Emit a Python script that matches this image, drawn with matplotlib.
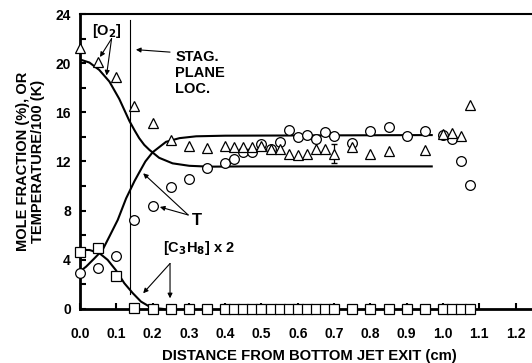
import matplotlib

matplotlib.use("Agg")

import matplotlib.pyplot as plt
from matplotlib.ticker import MultipleLocator

plt.rcParams["font.family"] = ["Liberation Sans", "DejaVu Sans"]
plt.rcParams["font.weight"] = "bold"
plt.rcParams["mathtext.default"] = "bf"

# measured points
x_o2 = [0.0, 0.05, 0.10, 0.15, 0.20, 0.25, 0.30, 0.35, 0.40, 0.425, 0.45, 0.475,
        0.50, 0.525, 0.55, 0.575, 0.60, 0.625, 0.65, 0.675, 0.70, 0.75, 0.80,
        0.85, 0.95, 1.0, 1.025, 1.05, 1.075]
o2 = [21.2, 20.1, 18.9, 16.5, 15.15, 13.75, 13.3, 13.1, 13.25, 13.15, 13.15, 13.2,
      13.25, 13.0, 13.05, 12.65, 12.5, 12.65, 13.05, 13.05, 12.65, 13.2, 12.65,
      12.85, 12.95, 14.2, 14.35, 14.1, 16.6]

x_t = [0.0, 0.05, 0.10, 0.15, 0.20, 0.25, 0.30, 0.35, 0.40, 0.425, 0.45, 0.475,
       0.50, 0.525, 0.55, 0.575, 0.60, 0.625, 0.65, 0.675, 0.70, 0.75, 0.80,
       0.85, 0.90, 0.95, 1.0, 1.025, 1.05, 1.075]
temp = [2.9, 3.3, 4.35, 7.2, 8.4, 9.95, 10.6, 11.45, 11.9, 12.2, 12.75, 12.75,
        13.4, 13.0, 13.55, 14.55, 14.0, 14.15, 13.8, 14.4, 14.1, 13.5, 14.45,
        14.8, 14.1, 14.5, 14.15, 13.8, 12.0, 10.05]

x_c3h8 = [0.0, 0.05, 0.10, 0.15, 0.20, 0.25, 0.30, 0.35, 0.40, 0.425, 0.45, 0.475,
          0.50, 0.525, 0.55, 0.575, 0.60, 0.625, 0.65, 0.675, 0.70, 0.75, 0.80,
          0.85, 0.90, 0.95, 1.0, 1.025, 1.05, 1.075]
c3h8 = [4.65, 4.95, 2.7, 0.1] + [0.0] * 26

# model curves
xc_o2 = [0.0, 0.026, 0.053, 0.081, 0.108, 0.122, 0.136, 0.15, 0.163, 0.177,
         0.191, 0.218, 0.255, 0.301, 0.356, 0.45, 0.969]
yc_o2 = [20.3, 20.05, 19.45, 18.5, 17.1, 16.2, 15.3, 14.55, 13.9, 13.35,
         12.95, 12.3, 11.85, 11.65, 11.58, 11.6, 11.6]
xc_t = [0.0, 0.017, 0.039, 0.062, 0.081, 0.104, 0.127, 0.15, 0.163, 0.18, 0.2,
        0.237, 0.274, 0.32, 0.4, 0.969]
yc_t = [3.05, 3.45, 4.1, 4.8, 5.9, 7.25, 9.0, 10.4, 11.1, 12.0, 12.75,
        13.6, 13.9, 14.05, 14.1, 14.15]
xc_c3h8 = [0.0, 0.026, 0.053, 0.076, 0.099, 0.122, 0.145, 0.168, 0.191, 0.214, 0.23]
yc_c3h8 = [4.8, 4.8, 4.55, 4.0, 3.15, 2.1, 1.3, 0.6, 0.2, 0.05, 0.0]

stag_x = 0.139
err_x, err_y, err_d = 0.70, 12.65, 0.75

fig = plt.figure(figsize=(5.32, 3.63), dpi=100)
ax = fig.add_axes((0.1504, 0.1488, 0.874, 0.8126))
ax.set_xlim(0, 1.281)
ax.set_ylim(0, 24)

ax.plot(xc_o2, yc_o2, "k-", lw=1.5)
ax.plot(xc_t, yc_t, "k-", lw=1.5)
ax.plot(xc_c3h8, yc_c3h8, "k-", lw=1.5)
ax.plot([stag_x, stag_x], [1.2, 23.5], "k-", lw=0.8)

mk = dict(ls="none", mfc="white", mec="k", mew=0.9, clip_on=False, zorder=4)
ax.plot(x_t, temp, "o", ms=7, **mk)
ax.plot(x_o2, o2, "^", ms=7.5, **mk)
ax.plot(x_c3h8, c3h8, "s", ms=6.5, **mk)
ax.errorbar([err_x], [err_y], yerr=[err_d], fmt="none", ecolor="k", lw=0.9,
            capsize=2.5, zorder=3)

arrow = dict(arrowstyle="-|>", color="k", lw=0.8, mutation_scale=7,
             shrinkA=0, shrinkB=0)
fs = 10.5
ax.text(0.074, 22.6, "[O$_2$]", fontsize=fs, ha="center", va="center")
for end in [(0.055, 20.5), (0.073, 19.0)]:
    ax.annotate("", xy=end, xytext=(0.087, 22.0), arrowprops=arrow)
ax.text(0.262, 21.1, "STAG.\nPLANE\nLOC.", fontsize=fs, ha="left", va="top",
        linespacing=1.2)
ax.annotate("", xy=(0.154, 21.1), xytext=(0.248, 20.9), arrowprops=arrow)
ax.text(0.321, 7.2, "T", fontsize=fs + 1.5, ha="center", va="center")
for end in [(0.174, 11.04), (0.22, 8.3)]:
    ax.annotate("", xy=end, xytext=(0.298, 7.65), arrowprops=arrow)
ax.text(0.229, 5.0, "[C$_3$H$_8$] x 2", fontsize=fs, ha="left", va="center")
for end in [(0.174, 1.28), (0.248, 0.87)]:
    ax.annotate("", xy=end, xytext=(0.248, 3.7), arrowprops=arrow)

ax.xaxis.set_major_locator(MultipleLocator(0.1))
ax.yaxis.set_major_locator(MultipleLocator(4))
ax.yaxis.set_minor_locator(MultipleLocator(2))
ax.xaxis.set_major_formatter(plt.FormatStrFormatter("%.1f"))
ax.tick_params(which="both", direction="in", width=1.5, labelsize=10,
               length=4, top=False, right=False)
ax.tick_params(axis="x", pad=13)
ax.tick_params(axis="y", pad=6.5)
for lbl in ax.get_xticklabels() + ax.get_yticklabels():
    lbl.set_fontweight("bold")

ax.spines["right"].set_visible(False)
ax.spines["left"].set_linewidth(2)
ax.spines["bottom"].set_linewidth(2)
ax.spines["top"].set_linewidth(1.5)

ax.set_xlabel("DISTANCE FROM BOTTOM JET EXIT (cm)", fontsize=10.7,
              fontweight="bold")
ax.xaxis.set_label_coords(0.493, -0.135)
ax.set_ylabel("MOLE FRACTION (%), OR\nTEMPERATURE/100 (K)", fontsize=10.5,
              fontweight="bold", linespacing=1.1)
ax.yaxis.set_label_coords(-0.075, 0.5)

fig.savefig("out.png", dpi=100)
